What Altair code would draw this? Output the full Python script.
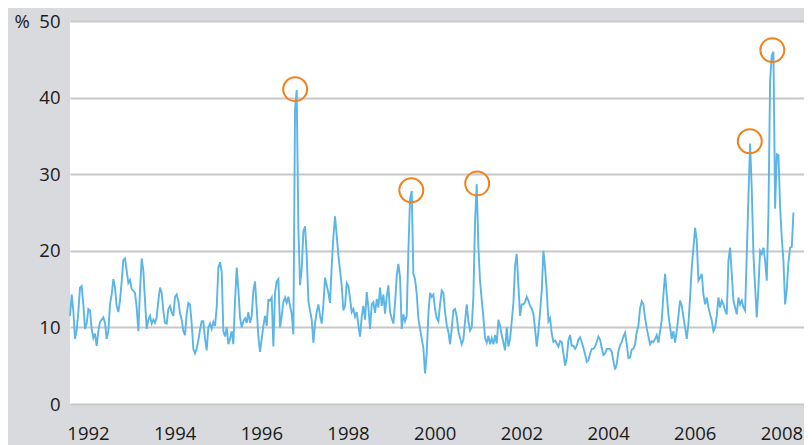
import altair as alt
import pandas as pd

# Time axis: series sampled every 1/26 year (fortnightly), starting at START_YEAR
START_YEAR = 1991.585
STEP = 1 / 26

seg_1991_1995 = [
    11.5, 14.3, 12.2, 8.5, 9.6, 12.0, 15.2, 15.4, 13.0, 9.8,
    10.5, 12.4, 12.2, 9.8, 8.6, 9.2, 7.6, 9.5, 10.7, 11.0,
    11.3, 10.6, 8.5, 9.5, 13.0, 14.3, 16.3, 15.2, 12.8, 12.0,
    13.5, 16.0, 18.8, 19.0, 17.4, 15.8, 16.2, 15.0, 14.8, 14.5,
    12.6, 9.5, 14.8, 19.0, 17.4, 13.5, 9.8, 11.0, 11.5, 10.5,
    11.0, 10.6, 11.3, 13.5, 15.2, 14.5, 12.2, 10.6, 10.5, 12.4,
    12.8, 12.0, 11.5, 14.0, 14.3, 13.5, 11.8, 11.0, 9.5, 9.0,
    11.8, 13.2, 13.0, 10.5, 7.2, 6.6, 7.2, 8.3, 9.7, 10.8,
    10.8, 8.5, 7.0, 10.0, 10.5, 9.8, 10.7, 10.2,
]
seg_1995_1998 = [
    12.6, 17.8, 18.5, 17.3, 9.5, 8.8, 10.0, 7.8, 8.5, 9.5,
    7.8, 13.5, 17.8, 15.0, 11.3, 10.0, 10.8, 11.2, 10.6, 12.0,
    10.6, 11.5, 14.8, 16.0, 12.5, 8.8, 6.8, 8.5, 10.2, 11.5,
    10.2, 13.6, 13.5, 13.9, 7.5, 14.5, 16.0, 16.3, 10.0, 11.5,
    13.3, 13.9, 13.2, 14.0, 12.8, 11.8, 9.1, 38.5, 41.0, 23.0,
    15.5, 17.6, 22.5, 23.2, 19.5, 13.5, 12.2, 11.0, 8.0, 10.5,
    12.0, 13.0, 11.5, 10.5, 13.0, 16.5, 15.5, 14.5, 13.2, 18.0,
    21.8, 24.5, 22.0, 19.4, 17.4, 15.5, 12.2, 12.8, 15.8, 15.4,
    13.8, 12.0, 12.4, 11.4, 12.0, 10.3, 8.8, 11.4,
]
seg_1998_2001 = [
    12.8, 11.0, 14.6, 12.6, 9.8, 13.0, 13.3, 11.9, 13.7, 12.6,
    15.2, 12.8, 14.3, 11.8, 14.0, 15.5, 12.0, 11.2, 10.5, 13.2,
    16.7, 18.3, 16.5, 9.8, 11.7, 10.8, 11.5, 20.0, 26.8, 27.8,
    17.0, 16.3, 14.4, 11.1, 9.8, 8.5, 7.3, 4.0, 6.5, 11.8,
    14.5, 14.0, 14.3, 12.4, 11.2, 10.8, 13.0, 14.8, 14.5, 12.0,
    10.3, 9.4, 7.8, 9.8, 12.2, 12.4, 11.4, 9.5, 8.6, 7.8,
    8.4, 10.8, 13.0, 10.8, 9.6, 10.0, 14.0, 24.0, 28.7, 20.5,
    16.0, 13.6, 11.3, 8.6, 8.0, 8.9, 7.8, 8.6, 7.8, 9.0,
    7.9, 11.0, 10.2, 9.0, 8.0, 7.0, 10.0,
]
seg_2001_2005 = [
    7.5, 8.5, 10.8, 13.2, 18.0, 19.6, 15.5, 11.5, 13.0, 13.0,
    13.3, 14.0, 13.5, 12.8, 12.4, 11.8, 9.8, 7.5, 9.5, 12.0,
    14.8, 20.0, 17.8, 14.8, 10.8, 11.2, 9.2, 8.1, 8.3, 7.9,
    7.5, 8.2, 8.1, 6.6, 5.0, 6.0, 8.3, 9.0, 7.6, 7.6,
    7.2, 7.6, 8.4, 8.7, 8.1, 7.3, 6.5, 5.5, 5.7, 6.6,
    7.2, 7.2, 7.5, 8.1, 8.8, 8.4, 7.3, 6.4, 6.6, 7.2,
    7.2, 7.2, 6.8, 5.6, 4.5, 5.2, 6.9, 7.7, 8.1, 8.8,
    9.3, 7.8, 6.0, 6.1, 7.1, 7.2, 7.8, 9.4, 10.2, 12.5,
    13.4, 13.0, 11.2, 9.9, 8.8, 7.8, 8.2, 8.1,
]
seg_2005_2008 = [
    8.5, 9.0, 8.0, 9.5, 11.0, 14.3, 17.0, 14.3, 11.7, 10.0,
    8.5, 9.5, 8.0, 9.5, 11.5, 13.5, 12.8, 11.3, 10.0, 8.5,
    10.5, 13.9, 17.8, 20.4, 23.0, 21.3, 16.1, 16.5, 17.0, 14.3,
    13.0, 13.9, 12.6, 11.7, 10.9, 9.5, 10.0, 11.5, 13.9, 12.6,
    13.5, 13.0, 12.2, 11.7, 18.7, 20.4, 17.0, 13.5, 12.6, 11.7,
    13.9, 13.0, 13.5, 12.6, 12.2, 19.6, 27.0, 34.0, 28.0, 19.6,
    15.2, 11.3, 15.2, 20.0, 19.6, 20.4, 18.7, 16.1, 25.0, 42.2,
    45.5, 46.0, 25.5, 32.6, 32.5, 25.7, 21.7, 18.7, 13.0, 15.0,
    18.5, 20.4, 20.5, 25.0,
]

peak_years = [1996.78, 1999.46, 2000.98, 2007.27, 2007.79]
peak_values = [41.1, 27.9, 28.8, 34.3, 46.2]

x_ticks = [1992, 1994, 1996, 1998, 2000, 2002, 2004, 2006, 2008]
y_ticks = [0, 10, 20, 30, 40, 50]

values = seg_1991_1995 + seg_1995_1998 + seg_1998_2001 + seg_2001_2005 + seg_2005_2008
df = pd.DataFrame({
    "year": [START_YEAR + i * STEP for i in range(len(values))],
    "value": values,
})
peaks = pd.DataFrame({"year": peak_years, "value": peak_values})

FONT = "Open Sans"
PLOT_W = 734
x_enc = alt.X(
    "year:Q",
    scale=alt.Scale(domain=[1991.585, 1991.585 + PLOT_W / 43.34], nice=False, zero=False),
    axis=alt.Axis(
        values=x_ticks, format="d", title=None, ticks=False, domain=False,
        grid=False, labelFontSize=18.5, labelFont=FONT, labelColor="#1a1a1a",
        labelPadding=20,
    ),
)
y_enc = alt.Y(
    "value:Q",
    scale=alt.Scale(domain=[0, 50], nice=False, zero=True),
    axis=alt.Axis(
        values=y_ticks, title=None, ticks=False, domain=False, grid=True,
        gridColor="#c8c8c8", gridWidth=2, labelFontSize=18.5, labelFont=FONT,
        labelColor="#1a1a1a", labelPadding=10,
        labelExpr="datum.value == 50 ? '%\u00a0\u00a050' : datum.label",
    ),
)

line = alt.Chart(df).mark_line(color="#5bb5e6", strokeWidth=1.9).encode(x=x_enc, y=y_enc)
circles = alt.Chart(peaks).mark_point(
    shape="circle", filled=False, color="#f0821e", strokeWidth=2, size=572, opacity=1
).encode(x=x_enc, y=y_enc)

chart = alt.layer(line, circles).properties(
    width=PLOT_W,
    height=383,
    autosize=alt.AutoSizeParams(type="none"),
    padding={"left": 62, "top": 13, "right": 0, "bottom": 41},
    background="#d9dadd",
).configure_view(fill="white", stroke=None)

chart.save("out.html", embed_options={"renderer": "svg", "actions": False})
